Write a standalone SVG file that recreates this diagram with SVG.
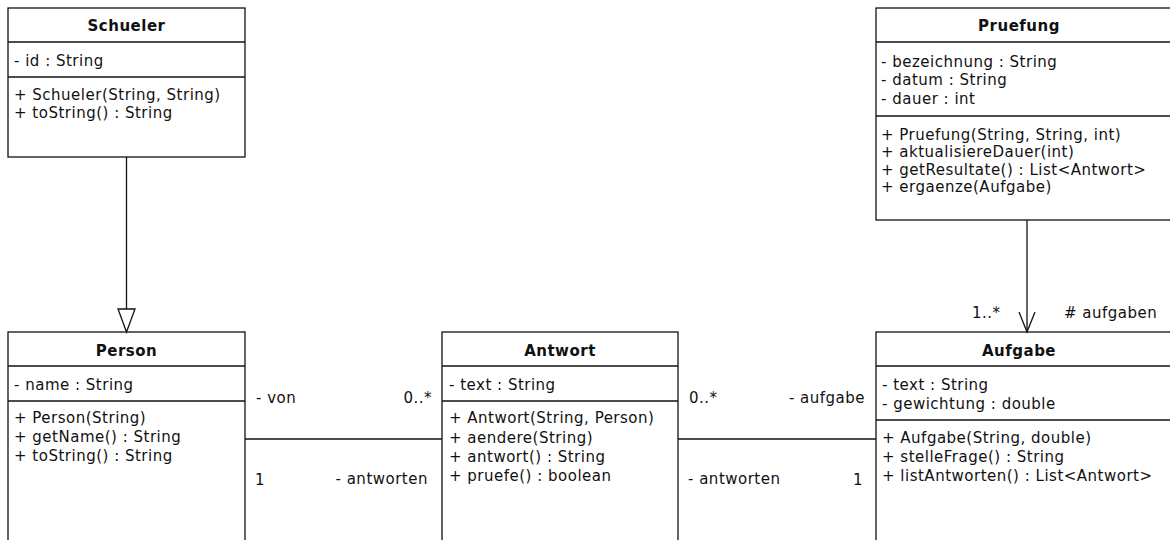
<svg xmlns="http://www.w3.org/2000/svg" width="1170" height="540" viewBox="0 0 1170 540">
<style>
.box{fill:#fff;stroke:#111;stroke-width:1.3}
.sep{stroke:#111;stroke-width:1.3}
.t{font-family:"DejaVu Sans",sans-serif;font-size:15px;letter-spacing:0.5px;fill:#111}
.b{font-family:"DejaVu Sans",sans-serif;font-size:15px;letter-spacing:0.5px;font-weight:bold;fill:#111;text-anchor:middle}
.e{text-anchor:end}
.ln{fill:none;stroke:#111;stroke-width:1.3}
</style>
<rect width="1170" height="540" fill="#fff"/>
<g id="Schueler">
<rect class="box" x="8" y="8" width="237" height="149"/>
<line class="sep" x1="8" y1="42" x2="245" y2="42"/>
<line class="sep" x1="8" y1="77" x2="245" y2="77"/>
<text class="b" x="126.5" y="30.5">Schueler</text>
<text class="t" x="14" y="65.5">- id : String</text>
<text class="t" x="14" y="100">+ Schueler(String, String)</text>
<text class="t" x="14" y="118">+ toString() : String</text>
</g>
<g id="Pruefung">
<rect class="box" x="876" y="8" width="320" height="212"/>
<line class="sep" x1="876" y1="42" x2="1196" y2="42"/>
<line class="sep" x1="876" y1="116" x2="1196" y2="116"/>
<text class="b" x="1019" y="30.5">Pruefung</text>
<text class="t" x="881" y="66.5">- bezeichnung : String</text>
<text class="t" x="881" y="85">- datum : String</text>
<text class="t" x="881" y="104">- dauer : int</text>
<text class="t" x="881" y="140">+ Pruefung(String, String, int)</text>
<text class="t" x="881" y="157">+ aktualisiereDauer(int)</text>
<text class="t" x="881" y="175">+ getResultate() : List&lt;Antwort&gt;</text>
<text class="t" x="881" y="192">+ ergaenze(Aufgabe)</text>
</g>
<g id="Person">
<rect class="box" x="8" y="332" width="237" height="230"/>
<line class="sep" x1="8" y1="366" x2="245" y2="366"/>
<line class="sep" x1="8" y1="401" x2="245" y2="401"/>
<text class="b" x="126.5" y="355.5">Person</text>
<text class="t" x="14" y="390">- name : String</text>
<text class="t" x="14" y="423">+ Person(String)</text>
<text class="t" x="14" y="441.5">+ getName() : String</text>
<text class="t" x="14" y="460.5">+ toString() : String</text>
</g>
<g id="Antwort">
<rect class="box" x="442" y="332" width="236" height="230"/>
<line class="sep" x1="442" y1="366" x2="678" y2="366"/>
<line class="sep" x1="442" y1="401" x2="678" y2="401"/>
<text class="b" x="560" y="355.5">Antwort</text>
<text class="t" x="449" y="390">- text : String</text>
<text class="t" x="449" y="423">+ Antwort(String, Person)</text>
<text class="t" x="449" y="442.5">+ aendere(String)</text>
<text class="t" x="449" y="461.5">+ antwort() : String</text>
<text class="t" x="449" y="480.5">+ pruefe() : boolean</text>
</g>
<g id="Aufgabe">
<rect class="box" x="876" y="332" width="320" height="230"/>
<line class="sep" x1="876" y1="366" x2="1196" y2="366"/>
<line class="sep" x1="876" y1="420" x2="1196" y2="420"/>
<text class="b" x="1019" y="355.5">Aufgabe</text>
<text class="t" x="882" y="390">- text : String</text>
<text class="t" x="882" y="409">- gewichtung : double</text>
<text class="t" x="882" y="443">+ Aufgabe(String, double)</text>
<text class="t" x="882" y="461.5">+ stelleFrage() : String</text>
<text class="t" x="882" y="481">+ listAntworten() : List&lt;Antwort&gt;</text>
</g>
<g id="connectors">
<line class="ln" x1="126.5" y1="157" x2="126.5" y2="309"/>
<polygon class="ln" fill="#fff" points="118,309 135,309 126.5,332"/>
<line class="ln" x1="245" y1="439" x2="442" y2="439"/>
<line class="ln" x1="678" y1="439" x2="876" y2="439"/>
<line class="ln" x1="1027" y1="220" x2="1027" y2="332"/>
<polyline class="ln" points="1019,312 1027,332 1035,312"/>
<text class="t" x="256" y="403">- von</text>
<text class="t e" x="432" y="403">0..*</text>
<text class="t" x="255" y="485">1</text>
<text class="t e" x="428" y="484">- antworten</text>
<text class="t" x="689" y="403">0..*</text>
<text class="t e" x="865" y="403">- aufgabe</text>
<text class="t" x="688" y="484">- antworten</text>
<text class="t e" x="863" y="485">1</text>
<text class="t" x="972" y="318">1..*</text>
<text class="t" x="1064" y="318"># aufgaben</text>
</g>
</svg>
